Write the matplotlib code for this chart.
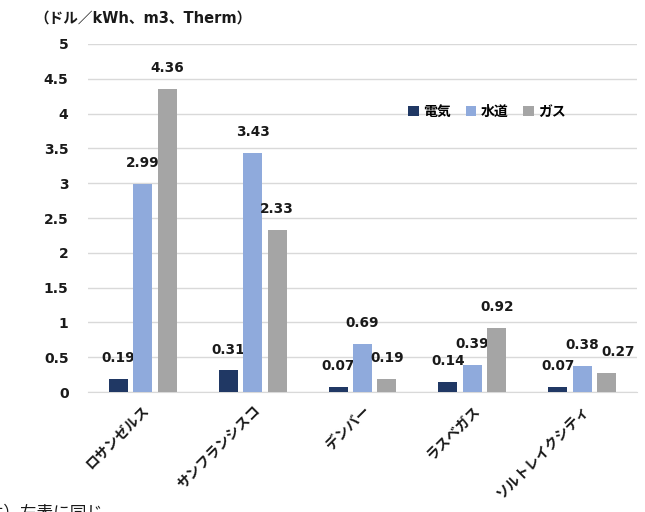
import matplotlib
matplotlib.use("Agg")
import matplotlib.pyplot as plt
import numpy as np

plt.rcParams['font.family'] = ['DejaVu Sans', 'Noto Sans CJK JP']
plt.rcParams['font.weight'] = 'bold'

cities = ["ロサンゼルス", "サンフランシスコ", "デンバー", "ラスベガス", "ソルトレイクシティ"]
series_names = ["電気", "水道", "ガス"]
electricity = [0.19, 0.31, 0.07, 0.14, 0.07]
water = [2.99, 3.43, 0.69, 0.39, 0.38]
gas = [4.36, 2.33, 0.19, 0.92, 0.27]
colors = ["#203864", "#8FAADC", "#A5A5A5"]
yticks = [0, 0.5, 1, 1.5, 2, 2.5, 3, 3.5, 4, 4.5, 5]
ytick_labels = ["0", "0.5", "1", "1.5", "2", "2.5", "3", "3.5", "4", "4.5", "5"]

fig = plt.figure(figsize=(6.45, 5.12), dpi=100)
ax = fig.add_axes([88/645, 1-392/512, (637-88)/645, (392-44)/512])

x = np.arange(len(cities))
step = 0.223
width = 0.173
labels = {}
for i, (vals, name, c) in enumerate(zip([electricity, water, gas], series_names, colors)):
    pos = x + (i - 1) * step
    ax.bar(pos, vals, width=width, color=c, label=name, zorder=3)
    for j, (p, v) in enumerate(zip(pos, vals)):
        labels[(j, i)] = ax.annotate(f"{v:.2f}", (p, v), xytext=(0, 15), textcoords="offset points",
                                     ha="center", va="center", fontsize=9.8, fontweight="bold",
                                     color="#1a1a1a")

ax.set_xlim(-0.5, len(cities) - 0.5)
ax.set_ylim(0, 5)
ax.set_yticks(yticks)
ax.set_yticklabels(ytick_labels, fontsize=10, fontweight="bold", color="#1a1a1a")
ax.set_xticks(x)
ax.set_xticklabels(cities, rotation=45, ha="right", rotation_mode="anchor",
                   fontsize=10, fontweight="bold", color="#1a1a1a")
ax.tick_params(axis="both", length=0)
ax.tick_params(axis="y", pad=14)
ax.tick_params(axis="x", pad=8)
ax.grid(axis="y", color="#D9D9D9", linewidth=1, zorder=0)
for s in ["top", "right", "left"]:
    ax.spines[s].set_visible(False)
ax.spines["bottom"].set_color("#D9D9D9")

leg = ax.legend(loc="center", bbox_to_anchor=((487-88)/549, (392-112)/348), ncol=3,
                frameon=False, handlelength=0.75, handleheight=0.75, handletextpad=0.3,
                columnspacing=1.1, prop={"size": 10, "weight": "bold"})

fig.text(34/645, 1-18/512, "（ドル／kWh、m3、Therm）", fontsize=10.5, fontweight="bold",
         va="center", ha="left", color="#1a1a1a")
fig.text(-30/645, 1-512/512, "（注）左表に同じ", fontsize=12, va="center", ha="left",
         color="#1a1a1a", fontweight="normal")

# nudge overlapping data labels apart (like the spreadsheet's automatic label placement)
fig.canvas.draw()
renderer = fig.canvas.get_renderer()
for j in range(len(cities)):
    for i in range(1, 3):
        prev = labels[(j, i - 1)].get_window_extent(renderer)
        cur_t = labels[(j, i)]
        cur = cur_t.get_window_extent(renderer)
        if prev.overlaps(cur):
            dx = prev.x1 - cur.x0 + 2
            ox, oy = cur_t.xyann
            cur_t.xyann = (ox + dx * 72 / fig.dpi, oy)

fig.savefig("out.png", dpi=100)
